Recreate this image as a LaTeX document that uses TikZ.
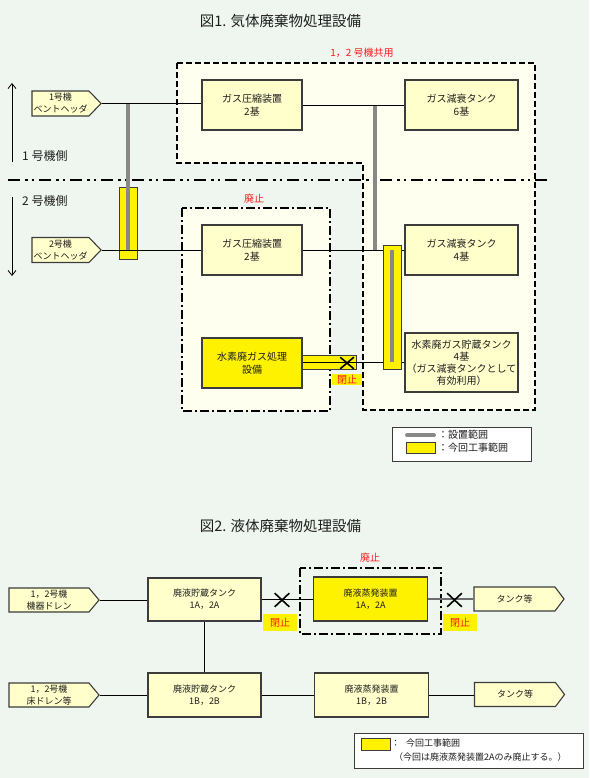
\documentclass[tikz,border=0pt]{standalone}
\usepackage{fontspec}
\setmainfont{Noto Sans CJK JP}
\usetikzlibrary{shapes.symbols,shapes.misc,arrows.meta}
\definecolor{bg}{RGB}{239,246,240}
\definecolor{area}{RGB}{255,255,240}
\definecolor{boxfill}{RGB}{255,255,204}
\definecolor{boxline}{RGB}{60,60,60}
\definecolor{bargray}{RGB}{136,136,136}
\definecolor{lblred}{RGB}{255,25,25}
\definecolor{txt}{RGB}{30,30,30}
\tikzset{
  f13/.style={font=\fontsize{14.5pt}{16pt}\selectfont},
  f12/.style={font=\fontsize{12pt}{14pt}\selectfont},
  f10/.style={font=\fontsize{10pt}{12.5pt}\selectfont},
  f9/.style={font=\fontsize{9pt}{12pt}\selectfont},
  eqbox/.style={draw=boxline, line width=1.3pt, fill=boxfill, align=center, inner sep=0pt, text=txt},
  ybox/.style={eqbox, fill=yellow},
  pent/.style={signal, signal to=east, signal from=nowhere, signal pointer angle=92,
     draw=boxline, line width=1.1pt, fill=boxfill, align=center, inner sep=0pt, text=txt, f9},
  conn/.style={draw=black, line width=0.8pt},
  grayconn/.style={draw=bargray!80!black, line width=1.6pt},
  graybar/.style={draw=bargray, line width=4pt},
  yband/.style={draw=boxline, fill=yellow, line width=1pt, inner sep=0pt},
  shared/.style={draw=black, fill=area, line width=2pt, dash pattern=on 6pt off 3pt},
  abol/.style={draw=black, line width=1.6pt, dash pattern=on 9pt off 3pt on 2pt off 3pt},
  sepline/.style={draw=black, line width=2.6pt, dash pattern=on 12pt off 5pt on 2.5pt off 4pt on 2.5pt off 5pt},
  redlbl/.style={text=lblred, f10, inner sep=0pt},
  closed/.style={fill=yellow, text=lblred, f10, inner sep=0pt},
  xmark/.style={cross out, draw=black, line width=1.6pt, inner sep=0pt},
  arr/.style={draw=black, line width=0.8pt, -{Straight Barb[length=5pt,width=8pt]}},
  legendbox/.style={draw=boxline, fill=white, line width=1pt, inner sep=0pt},
  plain/.style={text=txt, inner sep=0pt}
}
\begin{document}
\begin{tikzpicture}[x=1pt,y=-1pt]
\useasboundingbox (0,0) rectangle (589,778);
\fill[bg] (0,0) rectangle (589,778);

% ---------------- Figure 1 ----------------
\node[plain, f13] (title1) at (280.5,21) {図1. 気体廃棄物処理設備};

% regions
\draw[shared] (177,63) -- (535,63) -- (535,410) -- (363,410) -- (363,163) -- (177,163) -- cycle;
\draw[abol, fill=area] (182,208) rectangle (330,411);
\node[redlbl] (lshared) at (362,52.5) {1，2 号機共用};
\node[redlbl] (labol1) at (254,199) {廃止};

% separator
\coordinate (sepL) at (8,180);
\coordinate (sepR) at (548,180);
\draw[sepline] (sepL) -- (sepR);

% side arrows and labels
\coordinate (a1s) at (12,162);
\coordinate (a1e) at (12,83);
\draw[arr] (a1s) -- (a1e);
\coordinate (a2s) at (12,197);
\coordinate (a2e) at (12,276);
\draw[arr] (a2s) -- (a2e);
\node[plain, f12, anchor=west] (side1) at (22,156) {1 号機側};
\node[plain, f12, anchor=west] (side2) at (22,201) {2 号機側};

% equipment
\node[pent, minimum width=69pt, minimum height=25pt] (v1) at (60.5,103.5) {1号機\\ベントヘッダ};
\node[pent, minimum width=69pt, minimum height=25pt] (v2) at (60.5,250) {2号機\\ベントヘッダ};
\node[eqbox, f10, minimum width=100pt, minimum height=50pt] (c1) at (252,105) {ガス圧縮装置\\2基};
\node[eqbox, f10, minimum width=113pt, minimum height=50pt] (t6) at (461.5,105) {ガス減衰タンク\\6基};
\node[eqbox, f10, minimum width=100pt, minimum height=50pt] (c2) at (252,250) {ガス圧縮装置\\2基};
\node[eqbox, f10, minimum width=113pt, minimum height=50pt] (t4) at (461.5,250) {ガス減衰タンク\\4基};
\node[ybox, f10, minimum width=100pt, minimum height=50pt] (h) at (252,363) {水素廃ガス処理\\設備};
\node[eqbox, f10, minimum width=113pt, minimum height=59pt, font=\fontsize{10pt}{12pt}\selectfont] (hs) at (461.5,362.5) {水素廃ガス貯蔵タンク\\4基\\（ガス減衰タンクとして\\有効利用）};

% left yellow band with grey range
\node[yband, minimum width=18pt, minimum height=72pt] (yb1) at (128,223) {};
\coordinate (g1top) at (128,103.5);
\coordinate (g1bot) at (128,250);
\draw[graybar] (g1top) -- (g1bot);
\coordinate (g2top) at (375,105);
\coordinate (g2bot) at (375,250);
\draw[graybar] (g2top) -- (g2bot);

% connectors
\draw[conn] (v1.east) -- (v1.east -| c1.west);
\draw[conn] (c1.east) -- (t6.west);
\draw[conn] (v2.east) -- (c2.west);
\draw[conn] (c2.east) -- (t4.west);

% hydrogen line
\node[yband, minimum width=54pt, minimum height=14pt] (yb3) at (329,362) {};
\draw[conn] (h.east |- hs.west) -- (hs.west);
\node[yband, minimum width=18pt, minimum height=124pt] (yb2) at (392,307) {};
\coordinate (g3top) at (392,250);
\coordinate (g3bot) at (392,362);
\draw[graybar] (g3top) -- (g3bot);
\node[xmark, minimum width=12pt, minimum height=10pt] (x1) at (347,363) {};
\node[closed, minimum width=30pt, minimum height=11pt] (cl1) at (347,379.5) {閉止};

% legend 1
\node[legendbox, minimum width=139pt, minimum height=34pt] (leg1) at (461.5,444) {};
\coordinate (lg1a) at (407,435);
\coordinate (lg1b) at (434,435);
\draw[graybar, line cap=round] (lg1a) -- (lg1b);
\node[yband, minimum width=29pt, minimum height=11pt] (lgy1) at (420.5,447.5) {};
\node[plain, f10, anchor=west] (lgt1) at (438,435) {：設置範囲};
\node[plain, f10, anchor=west] (lgt2) at (438,448) {：今回工事範囲};

% ---------------- Figure 2 ----------------
\node[plain, f13] (title2) at (280.5,526) {図2. 液体廃棄物処理設備};

\draw[abol] (300,568) rectangle (441,634);
\node[redlbl] (labol2) at (370,558) {廃止};

\node[pent, minimum width=90pt, minimum height=24pt, signal pointer angle=100] (d1) at (49,600) {1，2号機\\機器ドレン};
\node[eqbox, f9, minimum width=113pt, minimum height=43pt] (s1) at (204.5,599.5) {廃液貯蔵タンク\\1A，2A};
\node[ybox, f9, minimum width=114pt, minimum height=44pt] (e1) at (370.5,599) {廃液蒸発装置\\1A，2A};
\node[pent, minimum width=90pt, minimum height=24pt, signal pointer angle=106] (k1) at (514.5,599) {タンク等};

\node[pent, minimum width=90pt, minimum height=24pt, signal pointer angle=100] (d2) at (49,695) {1，2号機\\床ドレン等};
\node[eqbox, f9, minimum width=113pt, minimum height=44pt] (s2) at (204.5,695) {廃液貯蔵タンク\\1B，2B};
\node[eqbox, f9, minimum width=114pt, minimum height=44pt] (e2) at (371.5,695) {廃液蒸発装置\\1B，2B};
\node[pent, minimum width=90pt, minimum height=24pt, signal pointer angle=106] (k2) at (515,694.5) {タンク等};

\draw[conn] (d1.east) -- (d1.east -| s1.west);
\draw[conn] (s1.east) -- (s1.east -| e1.west);
\draw[grayconn] (e1.east) -- (e1.east -| k1.west);
\draw[conn] (s1.south) -- (s2.north);
\draw[conn] (d2.east) -- (s2.west);
\draw[conn] (s2.east) -- (s2.east -| e2.west);
\draw[conn] (e2.east) -- (e2.east -| k2.west);

\node[xmark, minimum width=13pt, minimum height=12pt] (x2) at (282,600) {};
\node[xmark, minimum width=13pt, minimum height=12pt] (x3) at (454.5,600) {};
\node[closed, minimum width=34pt, minimum height=17pt] (cl2) at (280,622.5) {閉止};
\node[closed, minimum width=34pt, minimum height=17pt] (cl3) at (460,622.5) {閉止};

% legend 2
\node[legendbox, minimum width=229pt, minimum height=35pt] (leg2) at (468.5,750.5) {};
\node[yband, minimum width=29pt, minimum height=12pt] (lgy2) at (375.5,744) {};
\node[plain, f9, anchor=west] (lgt3) at (391,743) {：\hspace{6pt}今回工事範囲};
\node[plain, f9, anchor=west] (lgt4) at (394,757) {（今回は廃液蒸発装置2Aのみ廃止する。）};
\end{tikzpicture}
\end{document}
